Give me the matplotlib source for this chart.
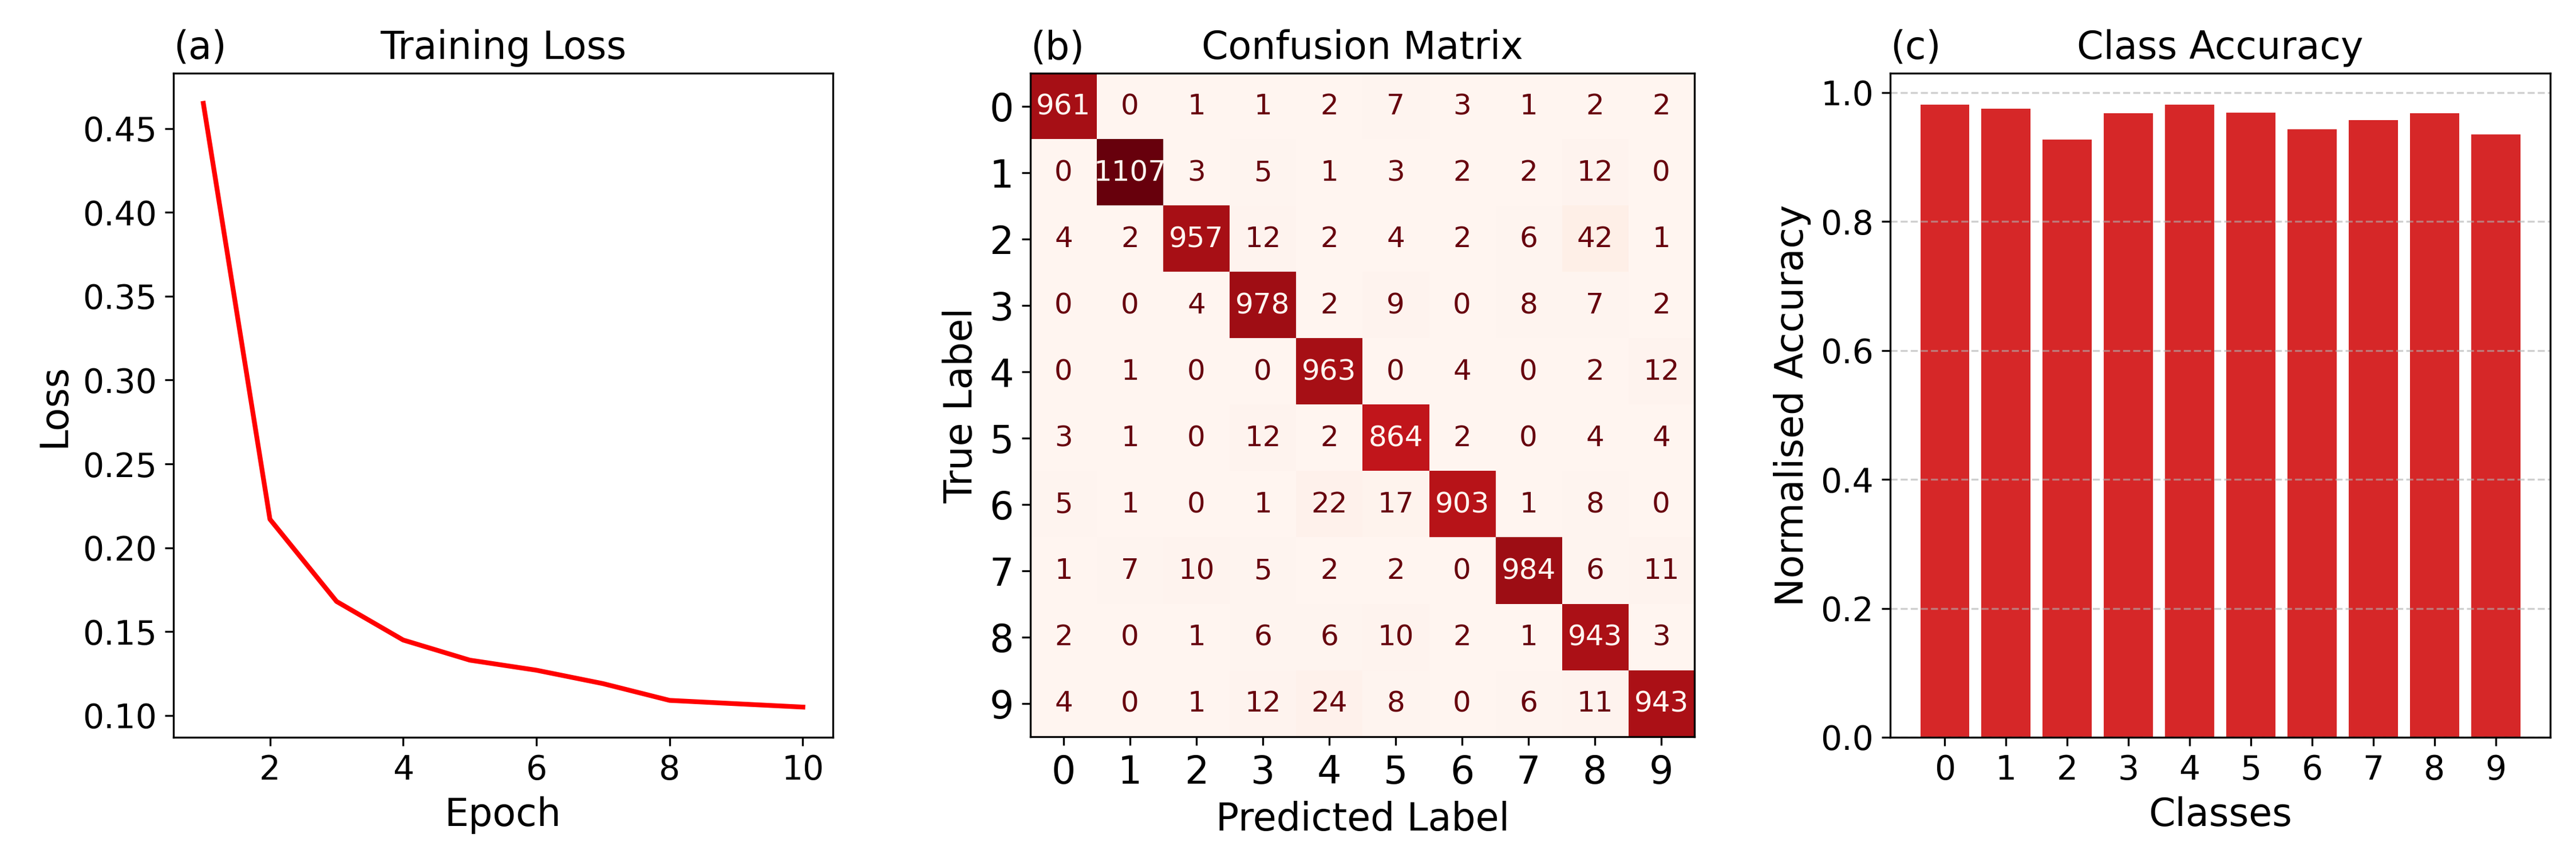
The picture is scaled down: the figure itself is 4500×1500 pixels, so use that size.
import numpy as np
import matplotlib
matplotlib.use("Agg")
import matplotlib.pyplot as plt

# training loss per epoch
epochs = [1, 2, 3, 4, 5, 6, 7, 8, 9, 10]
loss = [0.465, 0.217, 0.168, 0.145, 0.133, 0.127, 0.119, 0.109, 0.107, 0.105]

# confusion matrix (rows = true label, cols = predicted label)
classes = ['0', '1', '2', '3', '4', '5', '6', '7', '8', '9']
conf = np.array([
    [961, 0, 1, 1, 2, 7, 3, 1, 2, 2],
    [0, 1107, 3, 5, 1, 3, 2, 2, 12, 0],
    [4, 2, 957, 12, 2, 4, 2, 6, 42, 1],
    [0, 0, 4, 978, 2, 9, 0, 8, 7, 2],
    [0, 1, 0, 0, 963, 0, 4, 0, 2, 12],
    [3, 1, 0, 12, 2, 864, 2, 0, 4, 4],
    [5, 1, 0, 1, 22, 17, 903, 1, 8, 0],
    [1, 7, 10, 5, 2, 2, 0, 984, 6, 11],
    [2, 0, 1, 6, 6, 10, 2, 1, 943, 3],
    [4, 0, 1, 12, 24, 8, 0, 6, 11, 943],
])

# per class accuracy
accuracy = [0.981, 0.975, 0.927, 0.968, 0.981, 0.969, 0.943, 0.957, 0.968, 0.935]

fig = plt.figure(figsize=(15, 5), dpi=300)
ax1 = fig.add_axes([0.0673, 0.1407, 0.2560, 0.7740])
ax2 = fig.add_axes([0.4000, 0.1407, 0.2578, 0.7740])
ax3 = fig.add_axes([0.7338, 0.1407, 0.2562, 0.7740])

# (a) training loss
ax1.plot(epochs, loss, color='red', lw=2)
ax1.set_title('Training Loss', fontsize=16)
ax1.set_title('(a)', loc='left', fontsize=16)
ax1.set_xlabel('Epoch', fontsize=16)
ax1.set_ylabel('Loss', fontsize=16)
ax1.tick_params(labelsize=14)

# (b) confusion matrix
cmap = plt.get_cmap('Reds')
im = ax2.imshow(conf, cmap=cmap, interpolation='nearest')
thresh = (conf.max() + conf.min()) / 2.0
for i in range(conf.shape[0]):
    for j in range(conf.shape[1]):
        c = cmap(1.0) if conf[i, j] < thresh else cmap(0.0)
        ax2.text(j, i, str(conf[i, j]), ha='center', va='center',
                 color=c, fontsize=12)
ax2.set_xticks(range(len(classes)))
ax2.set_yticks(range(len(classes)))
ax2.set_xticklabels(classes)
ax2.set_yticklabels(classes)
ax2.tick_params(labelsize=16)
ax2.set_title('Confusion Matrix', fontsize=16)
ax2.set_title('(b)', loc='left', fontsize=16)
ax2.set_xlabel('Predicted Label', fontsize=16)
ax2.set_ylabel('True Label', fontsize=16)

# (c) class accuracy
ax3.bar(range(len(classes)), accuracy, color='#d62728')
ax3.set_xticks(range(len(classes)))
ax3.set_xticklabels(classes)
ax3.grid(axis='y', linestyle='--', alpha=0.6)
ax3.set_title('Class Accuracy', fontsize=16)
ax3.set_title('(c)', loc='left', fontsize=16)
ax3.set_xlabel('Classes', fontsize=16)
ax3.set_ylabel('Normalised Accuracy', fontsize=16)
ax3.tick_params(labelsize=14)

fig.savefig('out.png', dpi=300)
